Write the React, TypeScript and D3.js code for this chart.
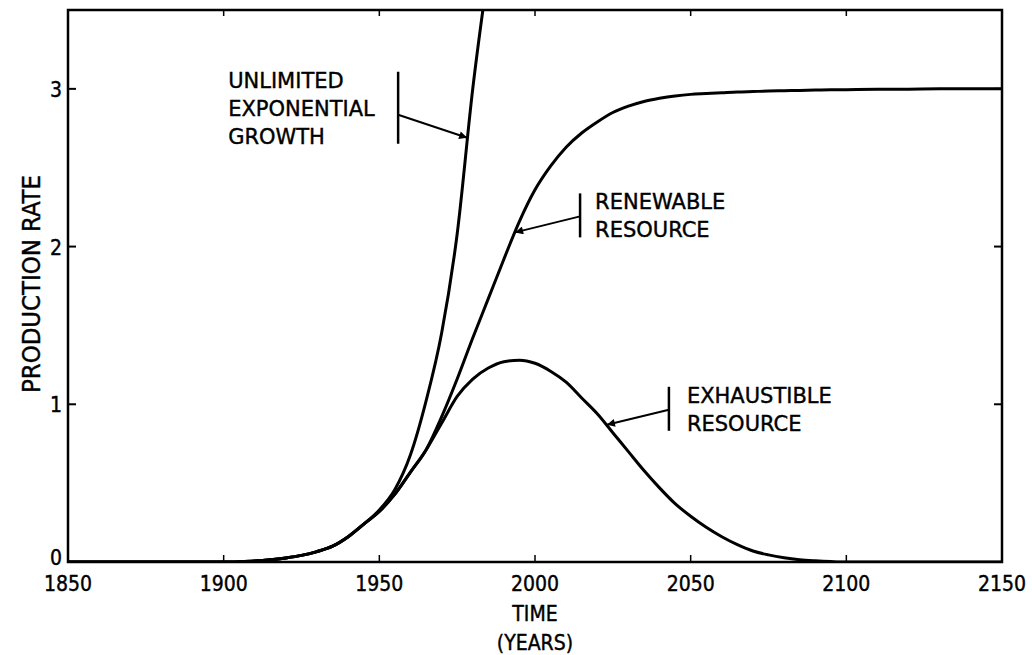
import * as d3 from "d3";

// years sampled for all three curves
const years = [
  1850, 1900, 1905, 1910, 1915, 1920, 1925, 1930, 1935, 1940, 1945, 1950,
  1955, 1960, 1965, 1970, 1975, 1980, 1985, 1990, 1995, 2000, 2005, 2010,
  2015, 2020, 2025, 2030, 2035, 2040, 2045, 2050, 2055, 2060, 2065, 2070,
  2075, 2080, 2085, 2090, 2095, 2100, 2110, 2120, 2130, 2140, 2150,
];

// production rate (null = off the chart)
const exponential = [
  0, 0, 0.002, 0.006, 0.014, 0.026, 0.042, 0.066, 0.1, 0.16, 0.24, 0.33,
  0.46, 0.68, 1.02, 1.45, 2.08, 3.0, 3.75, null, null, null, null, null,
  null, null, null, null, null, null, null, null, null, null, null, null,
  null, null, null, null, null, null, null, null, null, null, null,
];
const renewable = [
  0, 0, 0.002, 0.006, 0.014, 0.026, 0.042, 0.066, 0.1, 0.16, 0.24, 0.32,
  0.43, 0.57, 0.71, 0.92, 1.16, 1.42, 1.67, 1.92, 2.16, 2.36, 2.51, 2.63,
  2.72, 2.79, 2.85, 2.89, 2.92, 2.94, 2.955, 2.965, 2.97, 2.975, 2.98, 2.983,
  2.986, 2.988, 2.99, 2.992, 2.994, 2.995, 2.997, 2.998, 3.0, 3.0, 3.0,
];
const exhaustible = [
  0, 0, 0.002, 0.006, 0.014, 0.026, 0.042, 0.066, 0.1, 0.16, 0.24, 0.32,
  0.43, 0.57, 0.71, 0.88, 1.05, 1.16, 1.23, 1.27, 1.28, 1.26, 1.21, 1.14,
  1.04, 0.94, 0.82, 0.7, 0.58, 0.47, 0.37, 0.29, 0.22, 0.16, 0.11, 0.07,
  0.045, 0.027, 0.015, 0.008, 0.003, 0, 0, 0, 0, 0, 0,
];

const xTicks = [1850, 1900, 1950, 2000, 2050, 2100, 2150];
const yTicks = [0, 1, 2, 3];

// callouts: label lines, and the point on the curve the arrow hits
const callouts = [
  { lines: ["UNLIMITED", "EXPONENTIAL", "GROWTH"], year: 1978.2, value: 2.69, dx: -69, dy: -23, textDx: -170 },
  { lines: ["RENEWABLE", "RESOURCE"], year: 1993.6, value: 2.09, dx: 65, dy: -16, textDx: 15 },
  { lines: ["EXHAUSTIBLE", "RESOURCE"], year: 2023.1, value: 0.87, dx: 62, dy: -15, textDx: 18 },
];

const W = 1032;
const H = 655;
const m = { top: 10, right: 30, bottom: 93, left: 68 };

const x = d3.scaleLinear().domain([1850, 2150]).range([m.left, W - m.right]);
const y = d3.scaleLinear().domain([0, 3.5]).range([H - m.bottom, m.top]);

const mkLine = (vals: (number | null)[]) =>
  d3
    .line<number>()
    .defined((_, i) => vals[i] !== null)
    .x((d) => x(d))
    .y((_, i) => y(vals[i] as number))
    .curve(d3.curveMonotoneX)(years) as string;

const labelFont = "'DejaVu Sans', sans-serif";
const tickFont = "'DejaVu Sans Condensed', 'DejaVu Sans', sans-serif";

export default function App() {
  const x0 = x.range()[0];
  const x1 = x.range()[1];
  const y0 = y.range()[0];
  const y1 = y.range()[1];

  return (
    <div style={{ position: "absolute", left: 0, top: 0, background: "#fff" }}>
      <svg width={W} height={H} style={{ display: "block" }}>
        <defs>
          <clipPath id="plot">
            <rect x={x0} y={y1} width={x1 - x0} height={y0 - y1} />
          </clipPath>
          <marker id="arrow" viewBox="0 0 10 10" refX="10" refY="5" markerWidth="11" markerHeight="8" markerUnits="userSpaceOnUse" orient="auto">
            <path d="M0,0 L10,5 L0,10 Z" fill="#000" />
          </marker>
        </defs>
        <rect width={W} height={H} fill="#fff" />

        {/* frame */}
        <rect x={x0} y={y1} width={x1 - x0} height={y0 - y1} fill="none" stroke="#000" strokeWidth={2.5} />

        {/* ticks, inward on all four sides */}
        {xTicks.slice(1, -1).map((t) => (
          <g key={"xt" + t}>
            <line x1={x(t)} x2={x(t)} y1={y0} y2={y0 - 7} stroke="#000" strokeWidth={1.5} />
            <line x1={x(t)} x2={x(t)} y1={y1} y2={y1 + 6} stroke="#000" strokeWidth={1.5} />
          </g>
        ))}
        {yTicks.slice(1).map((t) => (
          <g key={"yt" + t}>
            <line x1={x0} x2={x0 + 8} y1={y(t)} y2={y(t)} stroke="#000" strokeWidth={2} />
            <line x1={x1} x2={x1 - 8} y1={y(t)} y2={y(t)} stroke="#000" strokeWidth={2} />
          </g>
        ))}

        {/* tick labels */}
        <g fontFamily={tickFont} fontSize={21} fill="#000" stroke="#000" strokeWidth={0.4}>
          {xTicks.map((t) => (
            <text key={"xl" + t} x={x(t)} y={y0 + 29} textAnchor="middle">
              {t}
            </text>
          ))}
          {yTicks.map((t) => (
            <text key={"yl" + t} x={x0 - 6} y={y(t) + (t === 0 ? 3 : 8)} textAnchor="end">
              {t}
            </text>
          ))}
        </g>

        {/* axis titles */}
        <g fontFamily={tickFont} fontSize={21} fill="#000" stroke="#000" strokeWidth={0.4} textAnchor="middle">
          <text x={x(2000)} y={621}>TIME</text>
          <text x={x(2000)} y={650}>(YEARS)</text>
          <text transform={`translate(40,284) rotate(-90)`} fontSize={24} textLength={218} lengthAdjust="spacingAndGlyphs">
            PRODUCTION RATE
          </text>
        </g>

        {/* curves */}
        <g clipPath="url(#plot)" fill="none" stroke="#000" strokeWidth={3} strokeLinejoin="round">
          <path d={mkLine(exponential)} />
          <path d={mkLine(renewable)} />
          <path d={mkLine(exhaustible)} />
        </g>

        {/* callouts */}
        {callouts.map((c, i) => {
          const tx = x(c.year);
          const ty = y(c.value);
          const bx = tx + c.dx;
          const by = ty + c.dy;
          const n = c.lines.length;
          const lh = 28;
          const top = by - 23 - (n - 2) * 20;
          const bottom = top + n * lh - 12;
          return (
            <g key={"c" + i}>
              <line x1={bx} y1={top} x2={bx} y2={bottom} stroke="#000" strokeWidth={2.5} />
              <line x1={bx} y1={by} x2={tx} y2={ty} stroke="#000" strokeWidth={2} markerEnd="url(#arrow)" />
              <g fontFamily={labelFont} fontSize={21} fill="#000" stroke="#000" strokeWidth={0.4}>
                {c.lines.map((s, k) => (
                  <text key={k} x={bx + c.textDx} y={top + 16 + k * lh}>
                    {s}
                  </text>
                ))}
              </g>
            </g>
          );
        })}
      </svg>
    </div>
  );
}
